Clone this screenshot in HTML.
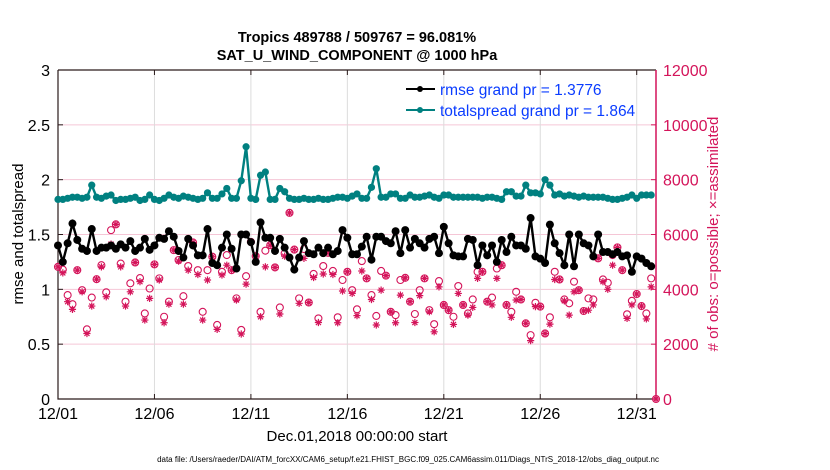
<!DOCTYPE html>
<html><head><meta charset="utf-8"><style>
html,body{margin:0;padding:0;background:#fff;}
svg{display:block;font-family:"Liberation Sans",Arial,sans-serif;}
</style></head><body>
<svg id="chart" width="830" height="470" viewBox="0 0 830 470" xmlns="http://www.w3.org/2000/svg">
<g id="grid"></g>
<g id="axes"></g>
<g id="obs"></g>
<g id="lines"></g>
<text x="357" y="42" text-anchor="middle" font-size="14.5" font-weight="bold">Tropics 489788 / 509767 = 96.081%</text>
<text x="357" y="60" text-anchor="middle" font-size="14.5" font-weight="bold">SAT_U_WIND_COMPONENT @ 1000 hPa</text>
<text transform="translate(23,234) rotate(-90)" text-anchor="middle" font-size="15">rmse and totalspread</text>
<text transform="translate(718,234) rotate(-90)" text-anchor="middle" font-size="15" fill="#d4145a"># of obs: o=possible; ×=assimilated</text>
<text x="357" y="441" text-anchor="middle" font-size="15">Dec.01,2018 00:00:00 start</text>
<text x="408" y="462" text-anchor="middle" font-size="8">data file: /Users/raeder/DAI/ATM_forcXX/CAM6_setup/f.e21.FHIST_BGC.f09_025.CAM6assim.011/Diags_NTrS_2018-12/obs_diag_output.nc</text>
<g>
<line x1="406" y1="89" x2="435" y2="89" stroke="#000" stroke-width="2"/><circle cx="420" cy="89" r="3" fill="#000"/>
<text x="440" y="95" font-size="15.5" fill="#0a3cff">rmse grand pr = 1.3776</text>
<line x1="406" y1="110" x2="435" y2="110" stroke="#008080" stroke-width="2"/><circle cx="420" cy="110" r="3" fill="#008080"/>
<text x="440" y="116" font-size="15.5" fill="#0a3cff">totalspread grand pr = 1.864</text>
</g>
</svg>
<script>
const rmse=[1.40,1.25,1.42,1.60,1.45,1.37,1.35,1.55,1.35,1.38,1.38,1.40,1.37,1.41,1.38,1.44,1.35,1.38,1.46,1.36,1.40,1.47,1.46,1.53,1.48,1.35,1.29,1.46,1.40,1.31,1.31,1.55,1.24,1.22,1.38,1.50,1.37,1.19,1.50,1.50,1.43,1.25,1.61,
1.47,1.47,1.35,1.46,1.38,1.29,1.18,1.29,1.44,1.33,1.32,1.38,1.33,1.38,1.32,1.35,1.54,1.47,1.32,1.32,1.39,1.48,1.27,1.48,1.48,1.44,1.42,1.53,1.33,1.54,1.38,1.46,1.42,1.38,1.46,1.48,1.33,1.57,
1.42,1.31,1.30,1.30,1.46,1.45,1.22,1.40,1.31,1.40,1.25,1.45,1.34,1.48,1.40,1.40,1.37,1.65,1.30,1.28,1.24,1.59,1.42,1.33,1.22,1.50,1.21,1.50,1.42,1.40,1.30,1.50,1.34,1.34,1.32,1.34,1.30,1.31,1.16,1.30,1.28,1.24,1.21];
const spread=[1.82,1.82,1.83,1.84,1.84,1.83,1.84,1.95,1.84,1.83,1.85,1.86,1.81,1.82,1.82,1.83,1.84,1.81,1.82,1.86,1.82,1.81,1.83,1.86,1.84,1.83,1.85,1.84,1.83,1.82,1.83,1.88,1.83,1.83,1.87,1.92,1.83,1.83,1.99,2.30,1.83,1.82,2.04,
2.07,1.82,1.82,1.92,1.89,1.83,1.82,1.82,1.83,1.82,1.82,1.83,1.82,1.82,1.83,1.84,1.84,1.83,1.85,1.87,1.83,1.83,1.93,2.10,1.84,1.84,1.87,1.87,1.83,1.83,1.86,1.84,1.84,1.85,1.86,1.84,1.83,1.86,
1.86,1.84,1.84,1.84,1.84,1.84,1.84,1.83,1.84,1.84,1.83,1.82,1.89,1.89,1.85,1.85,1.95,1.88,1.88,1.87,2.00,1.95,1.86,1.87,1.85,1.86,1.85,1.84,1.85,1.84,1.84,1.84,1.84,1.83,1.82,1.82,1.83,1.84,1.86,1.83,1.86,1.86,1.86];
const possible=[4820,4720,3790,3460,4700,3970,2540,3700,4370,4880,3890,6160,6370,4940,3550,4220,4980,4410,3120,4030,4910,4400,3000,3550,5430,5070,3750,4850,5710,4700,3180,4700,5190,2700,4640,5250,4700,3670,2520,4480,5730,5210,3180,
5410,5610,4800,3340,5310,6790,5450,3670,5470,3520,4560,2940,4850,5330,4670,2980,4340,4640,3970,3270,5030,4400,3790,3030,4670,4500,3180,3060,4340,4420,3550,3100,3970,4400,3240,2730,4300,3430,3240,3000,4120,
3430,3120,3630,4640,4640,3550,3700,4760,4880,3430,3180,3910,3630,2760,2330,3510,3370,2390,2980,4640,4360,3630,3490,4280,3970,3210,3670,3630,5130,4360,4240,5250,5530,4700,3090,3580,3830,3390,3120,4400,0];
const assimilated=[4820,4600,3550,3270,4700,3910,2390,3390,4370,4820,3730,5650,6370,4820,3390,3910,4980,4280,2880,3670,4910,4340,2780,3460,5430,5030,3460,4700,5710,4540,2880,4340,5190,2540,4520,4880,4700,3610,2370,4190,5730,5210,3000,
4820,5610,4800,3100,5210,6790,5450,3490,5130,3520,4430,2790,4560,5330,4540,2780,3940,4640,3850,3040,4670,4400,3630,2700,3970,4500,3180,2780,3790,4420,3550,2790,3770,4400,3180,2450,4090,3430,3240,2720,3850,
3430,3060,3340,4400,4640,3550,3430,4400,4880,3430,2980,3610,3630,2760,2130,3370,3370,2390,2730,4360,4360,3580,3060,3910,3970,3210,3240,3430,5130,4280,4000,4880,5530,4700,2940,3430,3830,3390,2920,4090,0];
const xTickLabels=["12/01","12/06","12/11","12/16","12/21","12/26","12/31"];
const xTickDays=[0,5,10,15,20,25,30];
const yTicks=[0,0.5,1,1.5,2,2.5,3];
const y2Ticks=[0,2000,4000,6000,8000,10000,12000];

const L=58,R=656,T=70,B=399,NS="http://www.w3.org/2000/svg";
const xDay=d=>L+(R-L)*d/31;
const xIdx=i=>xDay(i*0.25);
const yL=v=>B-(B-T)*v/3;
const yR=v=>B-(B-T)*v/12000;
function mk(tag,attrs,parent){const e=document.createElementNS(NS,tag);for(const k in attrs)e.setAttribute(k,attrs[k]);parent.appendChild(e);return e;}
const grid=document.getElementById('grid'),axes=document.getElementById('axes'),obs=document.getElementById('obs'),lines=document.getElementById('lines');

y2Ticks.forEach(v=>{if(v>0&&v<12000){const g=mk('line',{x1:L,x2:R,y1:yR(v),y2:yR(v),stroke:'#f5c6d6','stroke-width':1},grid);

}});
xTickDays.forEach((d,i)=>{const x=xDay(d);
if(d>0){const g=mk('line',{x1:x,x2:x,y1:T,y2:B,stroke:'#dcdcdc','stroke-width':1},grid);

}
mk('line',{x1:x,x2:x,y1:B,y2:B-5,stroke:'#2a1a1a'},axes);
mk('line',{x1:x,x2:x,y1:T,y2:T+5,stroke:'#2a1a1a'},axes);
const t=mk('text',{x:x,y:B+20,'text-anchor':'middle','font-size':16},axes);t.textContent=xTickLabels[i];

});
yTicks.forEach(v=>{const y=yL(v);mk('line',{x1:L,x2:L+5,y1:y,y2:y,stroke:'#2a1a1a'},axes);
const t=mk('text',{x:L-8,y:y+6,'text-anchor':'end','font-size':16},axes);t.textContent=String(v);

});
y2Ticks.forEach(v=>{const y=yR(v);mk('line',{x1:R,x2:R-5,y1:y,y2:y,stroke:'#d4145a'},axes);
const t=mk('text',{x:R+7,y:y+6,'font-size':16,fill:'#d4145a'},axes);t.textContent=String(v);

});
mk('path',{d:`M${L},${T}H${R}M${L},${T}V${B}H${R}`,fill:'none',stroke:'#2a1a1a','stroke-width':1.2},axes);
mk('line',{x1:R,x2:R,y1:T,y2:B,stroke:'#d4145a','stroke-width':1.5},axes);

possible.forEach((v,i)=>{const c=mk('circle',{cx:xIdx(i),cy:yR(v),r:3.5,fill:'none',stroke:'#d4145a','stroke-width':1.1},obs);

});
assimilated.forEach((v,i)=>{const x=xIdx(i),y=yR(v),s=3.6;
const g=mk('path',{d:`M${x-s},${y}H${x+s}M${x},${y-s}V${y+s}M${x-s*0.7},${y-s*0.7}L${x+s*0.7},${y+s*0.7}M${x-s*0.7},${y+s*0.7}L${x+s*0.7},${y-s*0.7}`,stroke:'#d4145a','stroke-width':1.2,fill:'none'},obs);

});

function series(arr,color,name,r){
const p=mk('polyline',{points:arr.map((v,i)=>xIdx(i)+','+yL(v)).join(' '),fill:'none',stroke:color,'stroke-width':2.4},lines);


arr.forEach((v,i)=>{const c=mk('circle',{cx:xIdx(i),cy:yL(v),r:r,fill:color},lines);

});}
series(spread,'#008080','totalspread',3.6);
series(rmse,'#000000','rmse',4);
</script>
</body></html>
